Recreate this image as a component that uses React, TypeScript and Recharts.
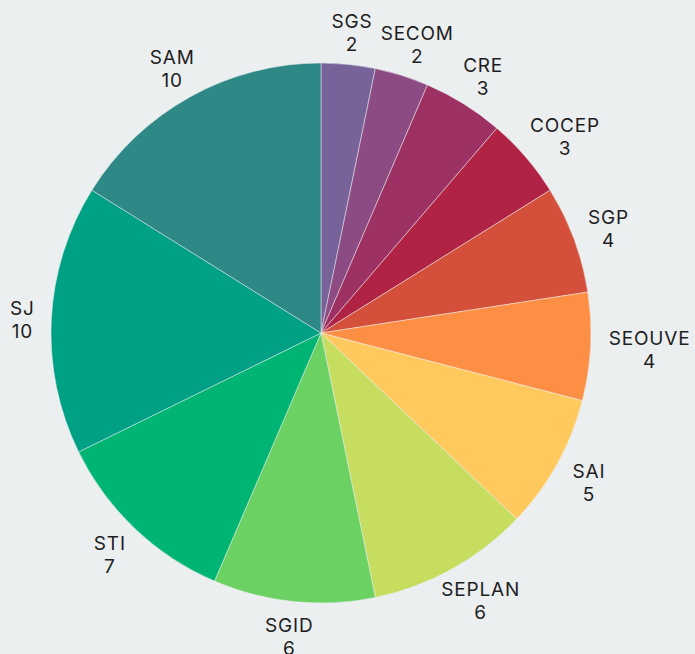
import React from 'react';
import { PieChart, Pie, Cell } from 'recharts';

const names = ['SGS', 'SECOM', 'CRE', 'COCEP', 'SGP', 'SEOUVE', 'SAI', 'SEPLAN', 'SGID', 'STI', 'SJ', 'SAM'];
const values = [2, 2, 3, 3, 4, 4, 5, 6, 6, 7, 10, 10];
const colors = ['#77629a', '#8c4c83', '#9e3164', '#b02345', '#d4503b', '#fd8f45', '#ffc95e', '#c7dd60', '#6bd163', '#00b574', '#00a085', '#2e8885'];

const data = names.map((name, i) => ({ name, value: values[i] }));

const RAD = Math.PI / 180;

const renderLabel = (props: any) => {
  const { cx, cy, midAngle, outerRadius, name, value } = props;
  const ux = Math.cos(-midAngle * RAD);
  const uy = Math.sin(-midAngle * RAD);
  const gap = 14;
  const halfW = (Math.max(String(name).length, String(value).length) * 15) / 2;
  const halfH = 20;
  const x = cx + (outerRadius + gap) * ux + ux * halfW;
  const y = cy + (outerRadius + gap) * uy + uy * halfH;
  return (
    <text x={x} y={y} textAnchor="middle" fill="#1e1e1e" fontSize={19} letterSpacing={0.8} fontFamily="Inter, 'Noto Sans', sans-serif">
      <tspan x={x} dy={-3}>{name}</tspan>
      <tspan x={x} dy={23}>{value}</tspan>
    </text>
  );
};

export default function App() {
  return (
    <div style={{ position: 'absolute', top: 0, left: 0, width: 695, height: 654, background: '#ebeff0' }}>
      <PieChart width={695} height={654} margin={{ top: 0, right: 0, bottom: 0, left: 0 }}>
        <Pie
          data={data}
          dataKey="value"
          nameKey="name"
          cx={321}
          cy={333}
          outerRadius={270}
          startAngle={90}
          endAngle={-270}
          stroke="#ebeff0"
          strokeWidth={0.5}
          label={renderLabel}
          labelLine={false}
          isAnimationActive={false}
        >
          {data.map((d, i) => (
            <Cell key={d.name} fill={colors[i]} />
          ))}
        </Pie>
      </PieChart>
    </div>
  );
}
